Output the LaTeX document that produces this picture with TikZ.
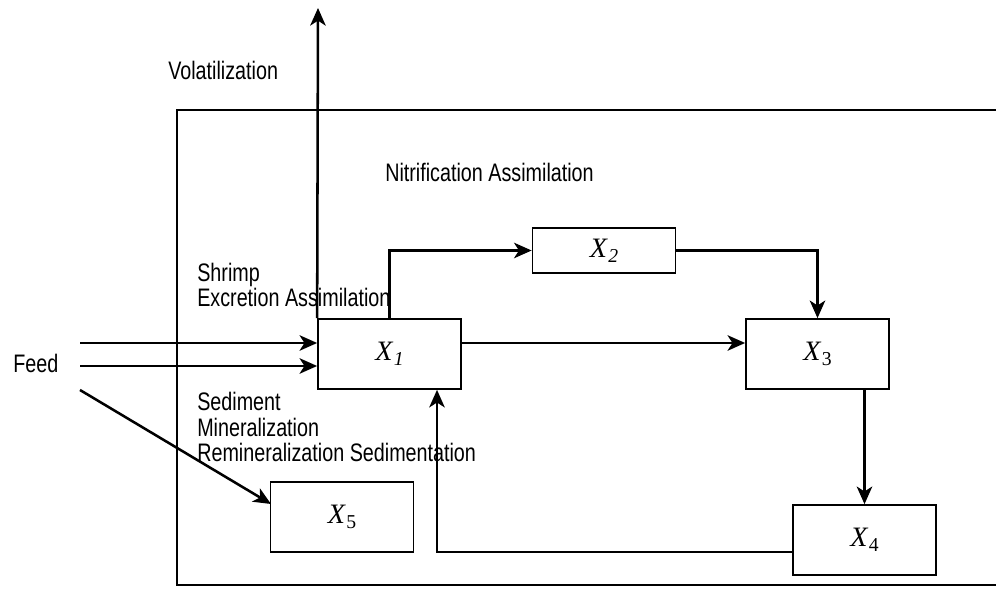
\documentclass[tikz,border=0pt]{standalone}
\usepackage{fontspec}
\setmainfont{Liberation Sans}[FakeStretch=0.78]
\newfontfamily\xserif{Liberation Serif}
\usetikzlibrary{arrows.meta}
\newcommand{\xit}[1]{{\xserif\fontsize{20}{20}\selectfont\itshape X\kern1pt\raisebox{-3.5pt}{\fontsize{14}{14}\selectfont #1}}}
\newcommand{\xup}[1]{{\xserif\fontsize{20}{20}\selectfont\itshape X\kern1pt\raisebox{-3.5pt}{\upshape\fontsize{14}{14}\selectfont #1}}}
\tikzset{
  box/.style={draw, line width=1.2pt, minimum width=3.575cm, minimum height=1.75cm, inner sep=0pt},
  flow/.style={line width=1.8pt, -{Stealth[length=12.5pt,width=11pt,inset=3.5pt]}},
  lbl/.style={anchor=base west, align=left, inner sep=0pt, font=\fontsize{18}{18.4}\selectfont}
}
\begin{document}
\begin{tikzpicture}[x=0.025cm, y=-0.025cm]
    \useasboundingbox (0,0) rectangle (996,589);
    \draw[line width=1.2pt] (996,110) -- (177,110) -- (177,585) -- (996,585);
    \node[box] (x1) at (389.5,354) {\xit{1}};
    \node[box, minimum height=1.125cm] (x2) at (604,250.5) {\xit{2}};
    \node[box] (x3) at (817.5,354) {\xup{3}};
    \node[box] (x4) at (864.5,540) {\xup{4}};
    \node[box] (x5) at (342,517) {\xup{5}};
    \node[lbl] (vol) at (168,80) {Volatilization};
    \node[lbl] (nit) at (385,182) {Nitrification Assimilation};
    \node[lbl] (exc) at (197,307) {Shrimp\\Excretion Assimilation};
    \node[lbl] (sed) at (197,462) {Sediment\\Mineralization\\Remineralization Sedimentation};
    \node[lbl] (feed) at (13,373) {Feed};
    \coordinate (fa) at (80,343);
    \coordinate (fb) at (80,366);
    \coordinate (fc) at (80,390);
    \coordinate (up) at (318,8);
    \coordinate (back) at (437,552);
    \coordinate (x5in) at (271,504);
    \draw[flow] (fa) -- (x1.west |- fa);
    \draw[flow] (fb) -- (x1.west |- fb);
    \draw[flow] (fc) -- (x5in);
    \draw[flow] (x1.north west) -- (up);
    \draw[flow] (x1.north) |- (x2.west);
    \draw[flow] (x2.east) -| (x3.north);
    \draw[flow] (x1.east |- fa) -- (x3.west |- fa);
    \draw[flow] (x3.south -| x4.north) -- (x4.north);
    \draw[flow] (x4.west |- back) -- (back) -- (back |- x1.south);
\end{tikzpicture}
\end{document}
